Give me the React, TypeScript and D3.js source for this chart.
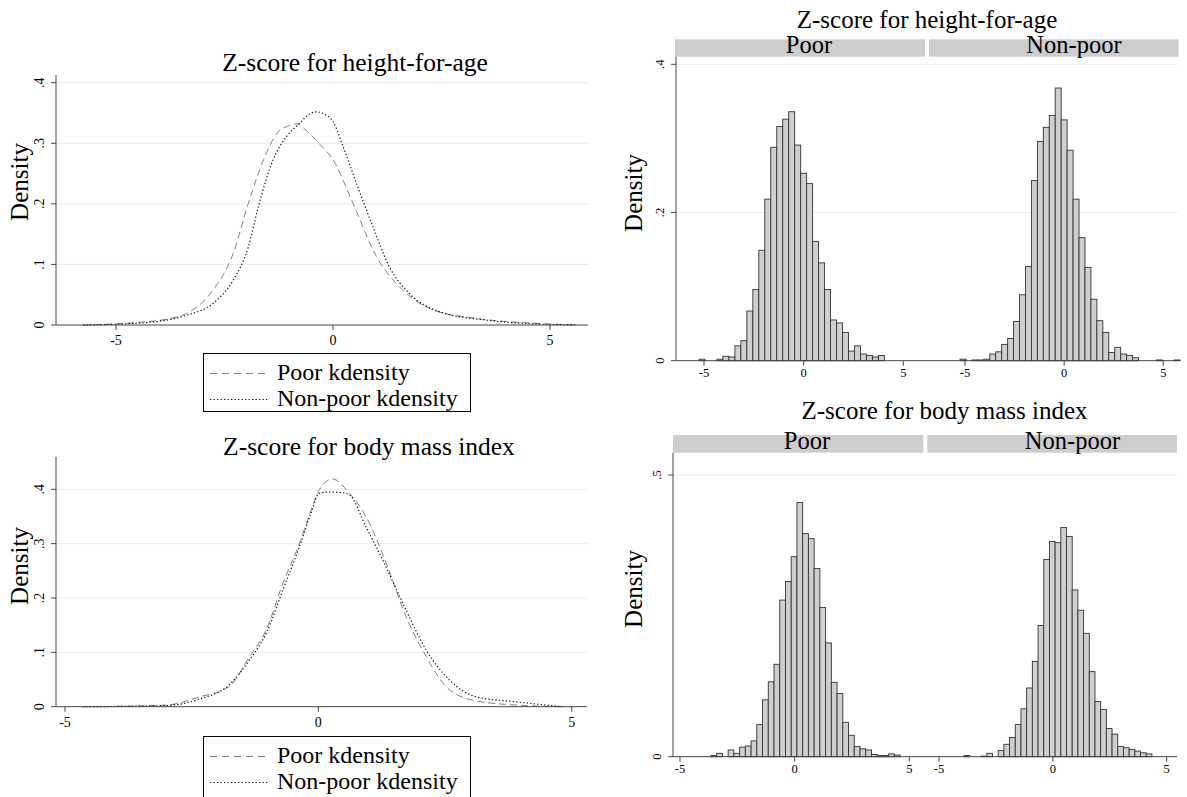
import React from "react"
import * as d3 from "d3"

type Pt = [number, number]

// labels and ticks
const groups = ["Poor", "Non-poor"]
const legendLabels = ["Poor kdensity", "Non-poor kdensity"]
const xTicks = [-5, 0, 5]
const kdYTicks = [0, 0.1, 0.2, 0.3, 0.4]
const hazHistYTicks = [0, 0.2, 0.4]
const bmiHistYTicks = [0, 0.5]

// kernel density curves (z, density)
const hazPoorKd: Pt[] = [
  [-5.76, 0], [-5.0, 0.002], [-4.37, 0.005], [-3.8, 0.01], [-3.38, 0.019],
  [-2.76, 0.058], [-2.3, 0.118], [-1.95, 0.201], [-1.6, 0.273], [-1.26, 0.319],
  [-1.05, 0.328], [-0.85, 0.332], [-0.6, 0.32], [-0.3, 0.298], [0, 0.273],
  [0.46, 0.201], [1.0, 0.113], [1.53, 0.063], [2.3, 0.025], [3.3, 0.011],
  [4.6, 0.003], [5.6, 0],
]
const hazNonpoorKd: Pt[] = [
  [-5.76, 0], [-4.5, 0.003], [-3.38, 0.016], [-2.76, 0.036], [-2.3, 0.074],
  [-1.95, 0.129], [-1.72, 0.195], [-1.38, 0.273], [-1.07, 0.311], [-0.77, 0.333],
  [-0.55, 0.348], [-0.38, 0.352], [-0.2, 0.348], [0, 0.336], [0.23, 0.295],
  [0.54, 0.234], [0.92, 0.162], [1.3, 0.096], [1.76, 0.052], [2.45, 0.022],
  [3.53, 0.008], [4.6, 0.002], [5.6, 0],
]
const bmiPoorKd: Pt[] = [
  [-4.65, 0], [-3.0, 0.003], [-2.35, 0.018], [-1.76, 0.037], [-1.36, 0.092],
  [-1.03, 0.141], [-0.7, 0.227], [-0.37, 0.301], [-0.15, 0.36], [0.02, 0.399],
  [0.28, 0.419], [0.61, 0.393], [0.94, 0.35], [1.34, 0.264], [1.73, 0.166],
  [2.13, 0.092], [2.52, 0.037], [3.05, 0.012], [3.9, 0.003], [4.82, 0],
]
const bmiNonpoorKd: Pt[] = [
  [-4.65, 0], [-3.0, 0.002], [-2.35, 0.014], [-1.76, 0.04], [-1.36, 0.086],
  [-1.03, 0.135], [-0.7, 0.215], [-0.37, 0.295], [-0.15, 0.355], [0.02, 0.393],
  [0.2, 0.395], [0.45, 0.394], [0.61, 0.39], [0.94, 0.331], [1.27, 0.27],
  [1.73, 0.178], [2.13, 0.104], [2.59, 0.049], [3.12, 0.018], [3.9, 0.009],
  [4.82, 0],
]

// histograms: density per bin
const hazBinStart = -5.25
const hazBinWidth = 0.3
const hazPoorHist = [
  0.002, 0, 0, 0.002, 0.006, 0.005, 0.02, 0.027, 0.067, 0.096, 0.149, 0.218,
  0.288, 0.316, 0.326, 0.336, 0.291, 0.253, 0.239, 0.161, 0.132, 0.096, 0.055,
  0.051, 0.038, 0.013, 0.02, 0.009, 0.007, 0.005, 0.007,
]
const hazNonpoorHist = [
  0.002, 0, 0.001, 0.001, 0.002, 0.009, 0.012, 0.022, 0.03, 0.053, 0.089, 0.127,
  0.243, 0.296, 0.315, 0.331, 0.368, 0.325, 0.284, 0.218, 0.166, 0.126, 0.083,
  0.054, 0.038, 0.011, 0.018, 0.009, 0.007, 0.004, 0, 0, 0, 0.001, 0, 0, 0.001,
]
const bmiBinStart = -3.9
const bmiBinWidth = 0.25
const bmiPoorHist = [
  0, 0.002, 0.006, 0, 0.012, 0.006, 0.017, 0.019, 0.028, 0.057, 0.101, 0.133,
  0.164, 0.278, 0.311, 0.355, 0.451, 0.396, 0.387, 0.334, 0.265, 0.202, 0.132,
  0.112, 0.061, 0.038, 0.018, 0.014, 0.012, 0.004, 0.002, 0.002, 0.005, 0.003,
]
const bmiNonpoorHist = [
  0.002, 0, 0, 0.001, 0.006, 0, 0.011, 0.022, 0.034, 0.057, 0.085, 0.122,
  0.169, 0.233, 0.35, 0.382, 0.38, 0.407, 0.391, 0.296, 0.26, 0.219, 0.151,
  0.098, 0.084, 0.05, 0.04, 0.018, 0.016, 0.013, 0.01, 0.007, 0.005,
]

const serif = "'Liberation Serif', 'Times New Roman', serif"
const axisColor = "#444"
const gridColor = "#e4eef0"
const fmt = (v: number) => (v === 0 ? "0" : d3.format(".1f")(v).replace(/^0/, ""))

const KdPanel = ({ title, titleX, titleY, left, right, xm5, xp5, y0, y4, top, densityY, legendTop, legendH, poor, nonpoor }) => {
  const x = d3.scaleLinear().domain([-5, 5]).range([xm5, xp5])
  const y = d3.scaleLinear().domain([0, 0.4]).range([y0, y4])
  const line = d3.line<Pt>().x((d) => x(d[0])).y((d) => y(d[1])).curve(d3.curveMonotoneX)
  return (
    <g>
      <text x={titleX} y={titleY} fontSize={25.5} textAnchor="middle">{title}</text>
      {kdYTicks.filter((t) => t > 0).map((t) => (
        <line key={t} x1={left} x2={right} y1={y(t)} y2={y(t)} stroke={gridColor} />
      ))}
      <path d={line(poor)} fill="none" stroke="#808080" strokeWidth={1} strokeDasharray="7,4" />
      <path d={line(nonpoor)} fill="none" stroke="#111" strokeWidth={1.2} strokeDasharray="1.3,2.2" />
      <line x1={left} x2={left} y1={top} y2={y0} stroke={axisColor} />
      <line x1={left} x2={right} y1={y0} y2={y0} stroke={axisColor} />
      {kdYTicks.map((t) => (
        <g key={t}>
          <line x1={left - 5} x2={left} y1={y(t)} y2={y(t)} stroke={axisColor} />
          <text transform={`translate(${left - 12},${y(t)}) rotate(-90)`} fontSize={14} textAnchor="middle">{fmt(t)}</text>
        </g>
      ))}
      {xTicks.map((t) => (
        <g key={t}>
          <line x1={x(t)} x2={x(t)} y1={y0} y2={y0 + 5} stroke={axisColor} />
          <text x={x(t)} y={y0 + 20} fontSize={14} textAnchor="middle">{t}</text>
        </g>
      ))}
      <text transform={`translate(28,${densityY}) rotate(-90)`} fontSize={25} textAnchor="middle">Density</text>
      <rect x={203.5} y={legendTop} width={267} height={legendH} fill="white" stroke="#000" />
      {legendLabels.map((lab, i) => (
        <g key={lab}>
          <line x1={210} x2={268} y1={legendTop + 20 + i * 26} y2={legendTop + 20 + i * 26}
            stroke={i === 0 ? "#808080" : "#111"} strokeWidth={i === 0 ? 1 : 1.2}
            strokeDasharray={i === 0 ? "7,5" : "1.3,2.2"} />
          <text x={277} y={legendTop + 26 + i * 26} fontSize={24}>{lab}</text>
        </g>
      ))}
    </g>
  )
}

const HistPanel = ({ title, titleX, titleY, stripTop, stripBottom, strips, left, right, y0, yTicks, yMaxVal, yMaxPx, panels, binStart, binWidth, densityY }) => {
  const y = d3.scaleLinear().domain([0, yMaxVal]).range([y0, yMaxPx])
  return (
    <g>
      <text x={titleX} y={titleY} fontSize={25} textAnchor="middle">{title}</text>
      {strips.map((s, i) => (
        <g key={i}>
          <rect x={s.x0} y={stripTop} width={s.x1 - s.x0} height={stripBottom - stripTop} fill="#cdcdcd" />
          <text x={s.labelX} y={stripBottom - 3.5} fontSize={24.5} textAnchor="middle">{groups[i]}</text>
        </g>
      ))}
      {yTicks.filter((t) => t > 0).map((t) => (
        <line key={t} x1={left} x2={right} y1={y(t)} y2={y(t)} stroke={gridColor} />
      ))}
      {panels.map((p, pi) => {
        const x = d3.scaleLinear().domain([-5, 5]).range([p.xm5, p.xp5])
        return (
          <g key={pi}>
            {p.values.map((v, i) => v > 0 && (
              <rect key={i} x={x(binStart + i * binWidth)} y={y(v)}
                width={x(binStart + (i + 1) * binWidth) - x(binStart + i * binWidth)}
                height={y0 - y(v)} fill="#cfcfcf" stroke="#333" strokeWidth={0.9} />
            ))}
            {xTicks.map((t) => (
              <g key={t}>
                <line x1={x(t)} x2={x(t)} y1={y0} y2={y0 + 5} stroke={axisColor} />
                <text x={x(t)} y={y0 + 16} fontSize={12.5} textAnchor="middle">{t}</text>
              </g>
            ))}
          </g>
        )
      })}
      <line x1={left} x2={left} y1={stripBottom} y2={y0} stroke={axisColor} />
      <line x1={left} x2={right} y1={y0} y2={y0} stroke={axisColor} />
      {yTicks.map((t) => (
        <g key={t}>
          <line x1={left - 5} x2={left} y1={y(t)} y2={y(t)} stroke={axisColor} />
          <text transform={`translate(${left - 12},${y(t)}) rotate(-90)`} fontSize={12.5} textAnchor="middle">{fmt(t)}</text>
        </g>
      ))}
      <text transform={`translate(642,${densityY}) rotate(-90)`} fontSize={25} textAnchor="middle">Density</text>
    </g>
  )
}

export default function App() {
  return (
    <svg width={1187} height={797} style={{ position: "absolute", left: 0, top: 0, background: "white" }} fontFamily={serif}>
      <rect width={1187} height={797} fill="white" />
      <KdPanel title="Z-score for height-for-age" titleX={355} titleY={71}
        left={56} right={588} xm5={116} xp5={550} y0={325} y4={82.7} top={75}
        densityY={182} legendTop={353.5} legendH={58} poor={hazPoorKd} nonpoor={hazNonpoorKd} />
      <KdPanel title="Z-score for body mass index" titleX={369} titleY={455}
        left={56} right={587} xm5={65} xp5={571.7} y0={706.7} y4={489.3} top={456.7}
        densityY={566} legendTop={736.5} legendH={70} poor={bmiPoorKd} nonpoor={bmiNonpoorKd} />
      <HistPanel title="Z-score for height-for-age" titleX={927} titleY={28}
        stripTop={39.3} stripBottom={56.7}
        strips={[{ x0: 675, x1: 925, labelX: 809 }, { x0: 929, x1: 1178.7, labelX: 1074 }]}
        left={676} right={1178} y0={360.7} yTicks={hazHistYTicks} yMaxVal={0.4} yMaxPx={64.3}
        panels={[{ xm5: 704, xp5: 903.3, values: hazPoorHist }, { xm5: 965, xp5: 1163.3, values: hazNonpoorHist }]}
        binStart={hazBinStart} binWidth={hazBinWidth} densityY={193} />
      <HistPanel title="Z-score for body mass index" titleX={944.5} titleY={419}
        stripTop={435} stripBottom={452.7}
        strips={[{ x0: 673, x1: 923.3, labelX: 807 }, { x0: 927.3, x1: 1177, labelX: 1072.5 }]}
        left={673} right={1177} y0={756.7} yTicks={bmiHistYTicks} yMaxVal={0.5} yMaxPx={475}
        panels={[{ xm5: 680, xp5: 909.3, values: bmiPoorHist }, { xm5: 939, xp5: 1166.7, values: bmiNonpoorHist }]}
        binStart={bmiBinStart} binWidth={bmiBinWidth} densityY={589} />
    </svg>
  )
}
